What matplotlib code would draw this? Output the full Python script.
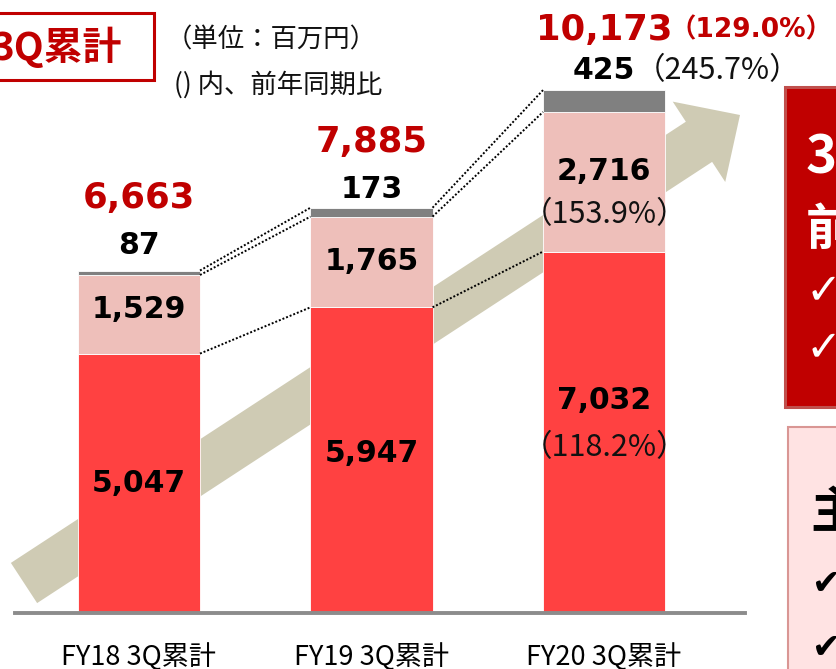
import numpy as np
import matplotlib
matplotlib.use("Agg")
import matplotlib.pyplot as plt
from matplotlib.patches import Polygon, Rectangle

plt.rcParams['font.family'] = ['DejaVu Sans', 'Noto Sans CJK JP']

# ── Data ───────────────────────────────────────────────────────
categories = ["FY18 3Q累計", "FY19 3Q累計", "FY20 3Q累計"]
red_vals   = [5047, 5947, 7032]
pink_vals  = [1529, 1765, 2716]
gray_vals  = [87, 173, 425]
totals     = [a + b + c for a, b, c in zip(red_vals, pink_vals, gray_vals)]

# ── Layout (pixels) ────────────────────────────────────────────
W, H = 836, 669
PX_PER_UNIT = 0.0514
total_dy = [73, 66, 60]      # label centre above bar top
gray_dy  = [25, 18, 20]
red_dy   = [0, -7, -32]      # label offset from segment middle
pink_dy  = [-5, 0, -10]

C_RED   = "#FF4141"
C_PINK  = "#EEBFBA"
C_GRAY  = "#808080"
C_DARK  = "#C00000"
C_ARROW = "#CFCBB4"

fig = plt.figure(figsize=(W / 100, H / 100), dpi=100)

# background axes in pixel coordinates
bg = fig.add_axes([0, 0, 1, 1], zorder=0)
bg.set_xlim(0, W)
bg.set_ylim(H, 0)
bg.axis("off")

# big arrow behind the bars
tail = np.array([24.0, 583.0])
tip  = np.array([740.0, 115.0])
u = (tip - tail) / np.linalg.norm(tip - tail)
n = np.array([-u[1], u[0]])
body_hw, head_len, head_hw = 24, 49, 48
base = tip - head_len * u
arrow_pts = [tail + body_hw * n, base + body_hw * n, base + head_hw * n, tip,
             base - head_hw * n, base - body_hw * n, tail - body_hw * n]
bg.add_patch(Polygon(arrow_pts, closed=True, facecolor=C_ARROW, edgecolor="none"))

# title box top-left
bg.add_patch(Rectangle((-10, 13), 164, 67, facecolor="white", edgecolor=C_DARK, linewidth=2.2))
bg.text(121, 47, "3Q累計", color=C_DARK, fontsize=28, fontweight="bold",
        family="Noto Sans CJK JP", ha="right", va="center")
bg.text(166, 40, "（単位：百万円）", fontsize=19, family="Noto Sans CJK JP", va="center", color="#111111")
bg.text(174, 85, "() 内、前年同期比", fontsize=19, family="Noto Sans CJK JP", va="center", color="#111111")

# right side boxes (cut by the slide crop)
bg.add_patch(Rectangle((785, 87), 80, 320, facecolor=C_DARK, edgecolor="#C0504D", linewidth=2.2))
bg.text(806, 157, "3Q累計", color="white", fontsize=38, fontweight="bold",
        family="Noto Sans CJK JP", va="center")
bg.text(806, 230, "前年同期比", color="white", fontsize=36, fontweight="bold",
        family="Noto Sans CJK JP", va="center")
for y in (291, 348):
    bg.text(806, y, "✓", color="white", fontsize=31, fontweight="bold", va="center")

bg.add_patch(Rectangle((788, 427), 80, 260, facecolor="#FFE3E3", edgecolor="#D99694", linewidth=1.5))
bg.text(810, 513, "主な要因", color="black", fontsize=36, fontweight="bold",
        family="Noto Sans CJK JP", va="center")
for y in (584, 648):
    bg.text(812, y, "✔", color="black", fontsize=25, va="center")

# ── Bar chart ──────────────────────────────────────────────────
ax = fig.add_axes([15 / W, (H - 613) / H, 730 / W, 613 / H], zorder=1)
ax.patch.set_alpha(0)
ax.set_xlim(-0.533, 2.606)
ax.set_ylim(0, 613 / PX_PER_UNIT)

x = np.arange(len(categories))
bw = 0.525
bottom_pink = np.array(red_vals)
bottom_gray = bottom_pink + np.array(pink_vals)
ax.bar(x, red_vals, bw, color=C_RED, edgecolor="white", linewidth=0.6, zorder=2)
ax.bar(x, pink_vals, bw, bottom=bottom_pink, color=C_PINK, edgecolor="white", linewidth=0.6, zorder=2)
ax.bar(x, gray_vals, bw, bottom=bottom_gray, color=C_GRAY, edgecolor="white", linewidth=0.6, zorder=2)

# dotted connectors between neighbouring bars
for i in range(len(x) - 1):
    for lo, hi in [(totals[i], totals[i + 1]),
                   (bottom_gray[i], bottom_gray[i + 1]),
                   (red_vals[i], red_vals[i + 1])]:
        ax.plot([x[i] + bw / 2, x[i + 1] - bw / 2], [lo, hi], color="black",
                linestyle=(0, (1, 1)), linewidth=1.4, zorder=3)

ax.spines[["top", "right", "left"]].set_visible(False)
ax.spines["bottom"].set_color("#8C8C8C")
ax.spines["bottom"].set_linewidth(2.8)
ax.set_yticks([])
ax.set_xticks(x)
ax.set_xticklabels(categories, fontsize=19.5, family="Noto Sans CJK JP")
ax.tick_params(axis="x", length=0, pad=22)

pt = 0.72  # points per pixel
def label(xi, yv, dy_px, s, **kw):
    ax.annotate(s, (xi, yv), xytext=(0, -dy_px * pt), textcoords="offset points",
                ha=kw.pop("ha", "center"), va="center", annotation_clip=False, zorder=4, **kw)

last = len(x) - 1
for i in x:
    label(i, totals[i], -total_dy[i], f"{totals[i]:,}", color=C_DARK, fontsize=25.5, fontweight="bold")
    label(i, totals[i], -gray_dy[i], f"{gray_vals[i]:,}", color="black", fontsize=21.5, fontweight="bold")
    label(i, red_vals[i] / 2, red_dy[i], f"{red_vals[i]:,}", color="black", fontsize=21.5, fontweight="bold")
    label(i, bottom_pink[i] + pink_vals[i] / 2, pink_dy[i], f"{pink_vals[i]:,}",
          color="black", fontsize=21.5, fontweight="bold")

# year-on-year ratios for the latest period
prev = last - 1
r_red  = red_vals[last] / red_vals[prev] * 100
r_pink = pink_vals[last] / pink_vals[prev] * 100
r_gray = gray_vals[last] / gray_vals[prev] * 100
r_tot  = totals[last] / totals[prev] * 100
label(last, red_vals[last] / 2, red_dy[last] + 47, f"（{r_red:.1f}%）",
      fontsize=22, family="Noto Sans CJK JP", color="#111111")
label(last, bottom_pink[last] + pink_vals[last] / 2, pink_dy[last] + 43, f"（{r_pink:.1f}%）",
      fontsize=22, family="Noto Sans CJK JP", color="#111111")
ax.annotate(f"（{r_gray:.1f}%）", (last + bw / 2, totals[last]), xytext=(-30 * pt, 20 * pt),
            textcoords="offset points", ha="left", va="center", fontsize=22,
            family="Noto Sans CJK JP", color="#111111", annotation_clip=False)
ax.annotate(f"（{r_tot:.1f}%）", (last + bw / 2, totals[last]), xytext=(4 * pt, 60 * pt),
            textcoords="offset points", ha="left", va="center", fontsize=19,
            fontweight="bold", color=C_DARK, annotation_clip=False)

fig.savefig("out.png", dpi=100)
